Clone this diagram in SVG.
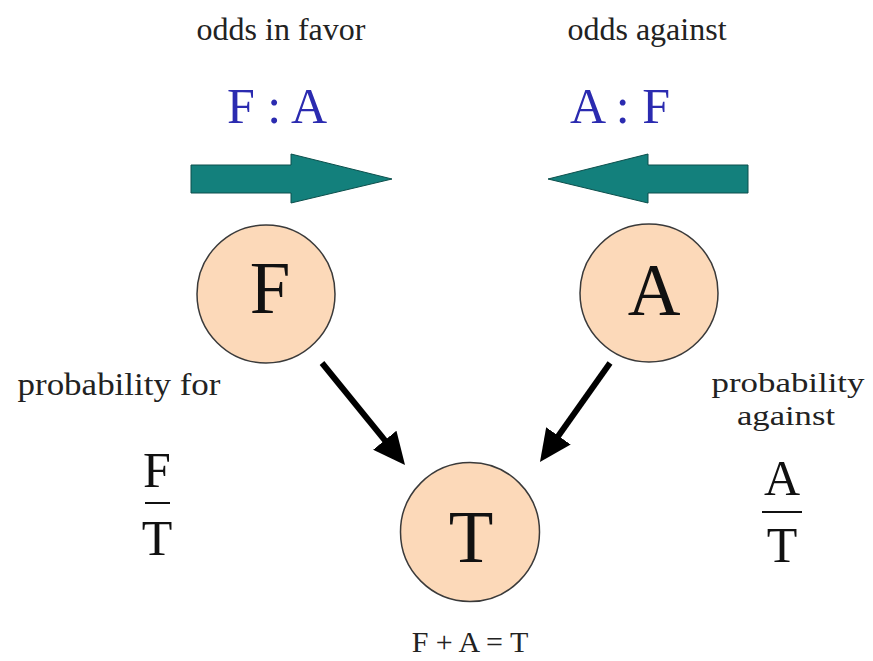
<svg xmlns="http://www.w3.org/2000/svg" width="873" height="661" viewBox="0 0 873 661">
<style>
  .lbl { font-family: "Liberation Serif", "Times New Roman", serif; font-size: 32px; fill: #222; text-anchor: middle; }
  .lbl2 { font-family: "Liberation Serif", "Times New Roman", serif; font-size: 28px; fill: #222; text-anchor: middle; }
  .ratio { font-family: "Liberation Serif", "Times New Roman", serif; font-size: 50px; fill: #2b2bb0; text-anchor: middle; }
  .frac { font-family: "Liberation Serif", "Times New Roman", serif; font-size: 50px; fill: #111; text-anchor: middle; }
  .node circle { fill: #fcd9b9; stroke: #3a3a3a; stroke-width: 1.5; }
  .node text { font-family: "Liberation Serif", "Times New Roman", serif; font-size: 73px; fill: #111; text-anchor: middle; }
  .big { fill: #13807c; stroke: #0c4f4c; stroke-width: 1; }
  .conn { stroke: #000; stroke-width: 6; fill: none; marker-end: url(#head); }
  .bar { stroke: #111; stroke-width: 2; }
</style>
<defs>
  <marker id="head" markerUnits="userSpaceOnUse" markerWidth="32" markerHeight="30" refX="7" refY="15" orient="auto">
    <path d="M0,0 L32,15 L0,30 z" fill="#000"/>
  </marker>
</defs>
<rect width="873" height="661" fill="#fff"/>

<g id="labels-top">
  <text class="lbl" x="281" y="40">odds in favor</text>
  <text class="lbl" x="647" y="40">odds against</text>
  <text class="ratio" x="277" y="123">F : A</text>
  <text class="ratio" x="620" y="123">A : F</text>
</g>

<g id="big-arrows">
  <polygon class="big" points="191,165 291,165 291,154 392,179 291,203 291,193 191,193"/>
  <polygon class="big" points="748,165 648,165 648,154 548,179 648,203 648,193 748,193"/>
</g>

<g id="connectors">
  <line class="conn" x1="322" y1="363" x2="389.2" y2="445.6"/>
  <line class="conn" x1="610" y1="363" x2="554.4" y2="441.6"/>
</g>

<g id="node-F" class="node">
  <circle cx="266" cy="294" r="69"/>
  <text x="270" y="313">F</text>
</g>
<g id="node-A" class="node">
  <circle cx="649" cy="293" r="69"/>
  <text x="654" y="315">A</text>
</g>
<g id="node-T" class="node">
  <circle cx="470" cy="532" r="69.5"/>
  <text x="471" y="562">T</text>
</g>

<g id="prob-for">
  <text class="lbl" x="119" y="395" textLength="203" lengthAdjust="spacingAndGlyphs">probability for</text>
  <text class="frac" x="157" y="487">F</text>
  <line class="bar" x1="145" y1="503" x2="170" y2="503"/>
  <text class="frac" x="157" y="555">T</text>
</g>

<g id="prob-against">
  <text class="lbl2" x="788" y="392" textLength="153" lengthAdjust="spacingAndGlyphs">probability</text>
  <text class="lbl2" x="786" y="425" textLength="98" lengthAdjust="spacingAndGlyphs">against</text>
  <text class="frac" x="782" y="495">A</text>
  <line class="bar" x1="762" y1="512" x2="802" y2="512"/>
  <text class="frac" x="782" y="562">T</text>
</g>

<g id="sum">
  <text class="lbl" x="470" y="652" style="font-size:30px">F + A = T</text>
</g>
</svg>
